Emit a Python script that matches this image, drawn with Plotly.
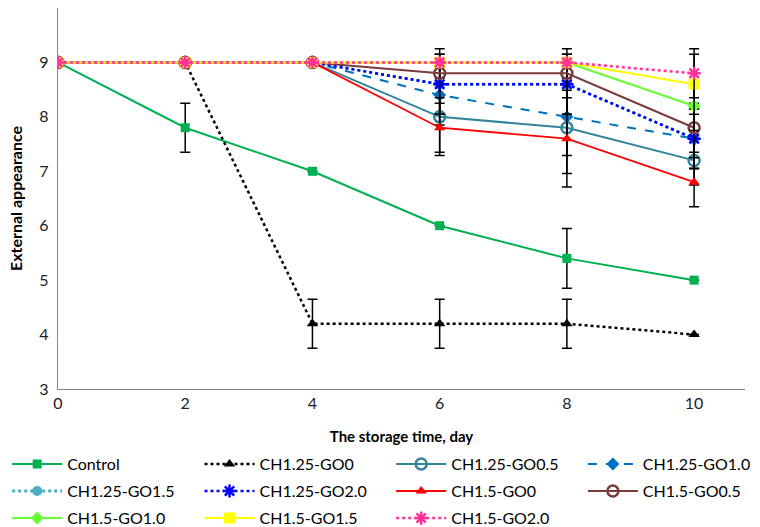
import plotly.graph_objects as go

days = [0, 2, 4, 6, 8, 10]

names = ["Control", "CH1.25-GO0", "CH1.25-GO0.5", "CH1.25-GO1.0",
         "CH1.25-GO1.5", "CH1.25-GO2.0", "CH1.5-GO0", "CH1.5-GO0.5",
         "CH1.5-GO1.0", "CH1.5-GO1.5", "CH1.5-GO2.0"]

control = [9, 7.8, 7.0, 6.0, 5.4, 5.0]
ch125_go0 = [9, 9, 4.2, 4.2, 4.2, 4.0]
ch125_go05 = [9, 9, 9, 8.0, 7.8, 7.2]
ch125_go10 = [9, 9, 9, 8.4, 8.0, 7.6]
ch125_go15 = [9, 9, 9, 8.6, 8.6, 7.6]
ch125_go20 = [9, 9, 9, 8.6, 8.6, 7.6]
ch15_go0 = [9, 9, 9, 7.8, 7.6, 6.8]
ch15_go05 = [9, 9, 9, 8.8, 8.8, 7.8]
ch15_go10 = [9, 9, 9, 9.0, 9.0, 8.2]
ch15_go15 = [9, 9, 9, 9.0, 9.0, 8.6]
ch15_go20 = [9, 9, 9, 9.0, 9.0, 8.8]

err_control = [0, 0.45, 0, 0, 0.55, 0]
err_ch125_go0 = [0, 0, 0.45, 0.45, 0.45, 0]
err_ch125_go05 = [0, 0, 0, 0.71, 0.84, 0.45]
err_ch125_go10 = [0, 0, 0, 0.55, 0.71, 0.55]
err_ch125_go15 = [0, 0, 0, 0.55, 0.55, 0.55]
err_ch125_go20 = [0, 0, 0, 0.55, 0.55, 0.55]
err_ch15_go0 = [0, 0, 0, 0.45, 0.89, 0.45]
err_ch15_go05 = [0, 0, 0, 0.45, 0.45, 0.45]
err_ch15_go10 = [0, 0, 0, 0, 0, 0.45]
err_ch15_go15 = [0, 0, 0, 0, 0, 0.55]
err_ch15_go20 = [0, 0, 0, 0, 0, 0.45]

values = [control, ch125_go0, ch125_go05, ch125_go10, ch125_go15, ch125_go20,
          ch15_go0, ch15_go05, ch15_go10, ch15_go15, ch15_go20]
errors = [err_control, err_ch125_go0, err_ch125_go05, err_ch125_go10,
          err_ch125_go15, err_ch125_go20, err_ch15_go0, err_ch15_go05,
          err_ch15_go10, err_ch15_go15, err_ch15_go20]

styles = [
    dict(color="#00B050", dash="solid", symbol="square", size=9, width=2),
    dict(color="#000000", dash="dot", symbol="triangle-up", size=10, width=2.5),
    dict(color="#31849B", dash="solid", symbol="circle-open", size=11, width=2),
    dict(color="#0070C0", dash="dash", symbol="diamond", size=10, width=2),
    dict(color="#4BACC6", dash="dot", symbol="circle", size=10, width=3),
    dict(color="#0000FF", dash="dot", symbol="asterisk-open", size=11, width=2.5),
    dict(color="#FF0000", dash="solid", symbol="triangle-up", size=10, width=1.8),
    dict(color="#7B3B3B", dash="solid", symbol="circle-open", size=11, width=2),
    dict(color="#66FF33", dash="solid", symbol="diamond", size=10, width=2),
    dict(color="#FFFF00", dash="solid", symbol="square", size=11, width=2),
    dict(color="#FF3399", dash="dot", symbol="asterisk-open", size=11, width=2.5),
]

# legend grid: 4 columns x 3 rows below the plot (paper coordinates)
legend_cols_x = [-0.074, 0.206, 0.485, 0.764]
legend_rows_y = [-0.197, -0.268, -0.339]

fig = go.Figure()
layout_legends = {}
for i, (name, vals, errs, st) in enumerate(zip(names, values, errors, styles)):
    lid = "legend" if i == 0 else f"legend{i + 1}"
    layout_legends[lid] = dict(
        orientation="h", x=legend_cols_x[i % 4], xanchor="left",
        y=legend_rows_y[i // 4], yanchor="middle",
        font=dict(size=16), itemwidth=50, bgcolor="rgba(0,0,0,0)")
    fig.add_trace(go.Scatter(
        x=days, y=vals, name=name, mode="lines+markers",
        legend=lid,
        line=dict(color=st["color"], dash=st["dash"], width=st["width"]),
        marker=dict(symbol=st["symbol"], size=st["size"], color=st["color"],
                    line=dict(color=st["color"], width=2.5 if "open" in st["symbol"] else 0)),
        error_y=dict(type="data", array=errs, visible=True, color="#000000",
                     thickness=1.5, width=5),
    ))

fig.update_layout(
    width=760, height=527,
    margin=dict(l=58, r=15, t=8, b=138, autoexpand=False),
    plot_bgcolor="white", paper_bgcolor="white",
    font=dict(family="Lato, Carlito, Liberation Sans, sans-serif", color="#000000"),
    xaxis=dict(range=[0, 10.8], tickvals=[0, 2, 4, 6, 8, 10], showgrid=False,
               zeroline=False, showline=True, linecolor="#868686", linewidth=1.3,
               ticks="", tickfont=dict(size=16, color="#222"),
               title=dict(text="<b>The storage time, day</b>", font=dict(size=15),
                          standoff=20)),
    yaxis=dict(range=[3, 10], dtick=1, showgrid=False, zeroline=False,
               showline=True, linecolor="#868686", linewidth=1.3, ticks="",
               tickfont=dict(size=16, color="#222"), ticklabelstandoff=5,
               title=dict(text="<b>External appearance</b>", font=dict(size=16),
                          standoff=12)),
    showlegend=True,
    **layout_legends,
)

fig.write_html("out.html")
